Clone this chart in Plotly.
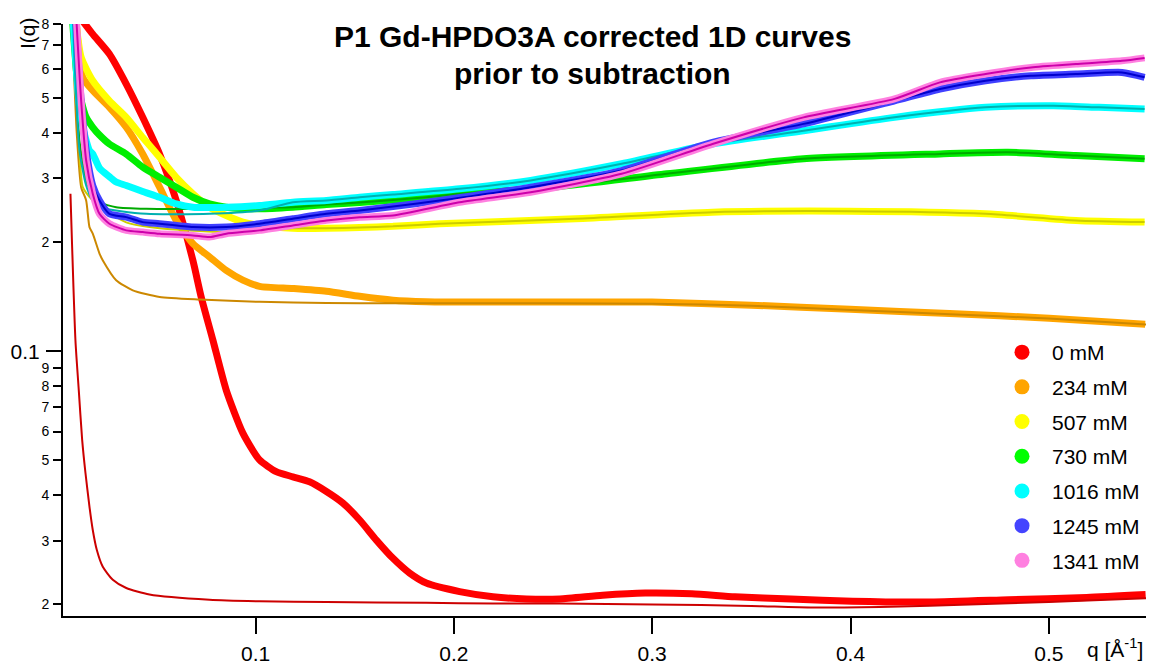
import plotly.graph_objects as go

# ---------------- data ----------------
q_red = [0.0110, 0.0179, 0.0263, 0.0348, 0.0431, 0.0516, 0.0600, 0.0684, 0.0726, 0.0785, 0.0852,
         0.0936, 0.1020, 0.1104, 0.1188, 0.1272, 0.1357, 0.1440, 0.1525, 0.1609, 0.1693, 0.1777,
         0.1861, 0.2029, 0.2197, 0.2366, 0.2534, 0.2750, 0.2965, 0.3200, 0.3417, 0.3700, 0.4010,
         0.4404, 0.4798, 0.5190, 0.5488]
I_red = [0.84, 0.750, 0.661, 0.546, 0.442, 0.350, 0.2606, 0.178, 0.141, 0.1072, 0.0781,
         0.0594, 0.0501, 0.0465, 0.0450, 0.0436, 0.0410, 0.0381, 0.0342, 0.0301, 0.0268, 0.0244,
         0.0229, 0.0217, 0.0210, 0.0207, 0.0207, 0.0212, 0.0215, 0.0214, 0.0210, 0.0207, 0.0204,
         0.0203, 0.0206, 0.0209, 0.0213]

q_red_thin = [0.00666, 0.00918, 0.01085, 0.01256, 0.01423, 0.01625, 0.01791, 0.01993, 0.02296,
              0.0280, 0.0348, 0.0465, 0.0768, 0.1020, 0.1357, 0.1861, 0.2196, 0.2534, 0.3000,
              0.3500, 0.3810, 0.4200, 0.4600, 0.5000, 0.5490]
I_red_thin = [0.272, 0.107, 0.0781, 0.0569, 0.0461, 0.0372, 0.0321, 0.0283, 0.0254,
              0.0234, 0.0222, 0.0213, 0.0206, 0.0204, 0.0203, 0.0202, 0.0201, 0.0201, 0.0200,
              0.0198, 0.0196, 0.0197, 0.0200, 0.0203, 0.0208]

q_orange = [0.0095, 0.01287, 0.0179, 0.0263, 0.0348, 0.0431, 0.0516, 0.0600, 0.0684, 0.0768,
            0.0852, 0.0936, 0.1020, 0.1188, 0.1357, 0.1525, 0.1693, 0.1861, 0.2029, 0.2500,
            0.2998, 0.3500, 0.3998, 0.4500, 0.5002, 0.5486]
I_orange = [0.82, 0.570, 0.524, 0.471, 0.415, 0.350, 0.2836, 0.2296, 0.198, 0.182,
            0.167, 0.157, 0.151, 0.1489, 0.1463, 0.1417, 0.1382, 0.1369, 0.1366, 0.1366,
            0.1366, 0.1340, 0.1305, 0.1270, 0.1233, 0.1187]

q_orange_thin = [0.0075, 0.00868, 0.00984, 0.01206, 0.01458, 0.01625, 0.01791, 0.0213, 0.0230,
                 0.0297, 0.0381, 0.0516, 0.0717, 0.1020, 0.1357, 0.1693, 0.2029, 0.2500, 0.3000,
                 0.3500, 0.4000, 0.4500, 0.5000, 0.5490]
I_orange_thin = [0.79, 0.546, 0.399, 0.2836, 0.2606, 0.220, 0.211, 0.186, 0.178,
                 0.157, 0.1472, 0.1411, 0.1388, 0.1368, 0.1358, 0.1356, 0.1356, 0.1356, 0.1352,
                 0.1335, 0.1300, 0.1265, 0.1230, 0.1185]

q_yellow = [0.0090, 0.01206, 0.0179, 0.0263, 0.0348, 0.0431, 0.0516, 0.0600, 0.0684, 0.0768,
            0.0852, 0.0936, 0.1020, 0.1188, 0.1357, 0.1525, 0.1693, 0.1928, 0.2614, 0.3304,
            0.3992, 0.4681, 0.5137, 0.5483]
I_yellow = [0.85, 0.647, 0.558, 0.491, 0.442, 0.389, 0.343, 0.302, 0.272, 0.2497,
            0.2369, 0.2271, 0.2224, 0.2183, 0.2183, 0.2196, 0.2211, 0.2249, 0.2320, 0.2419,
            0.2434, 0.2394, 0.2296, 0.2271]
q_yellow_thin = [0.0078, 0.0112, 0.01287, 0.0179, 0.0230, 0.0348, 0.0516, 0.0818, 0.1020]
I_yellow_thin = [0.85, 0.358, 0.2836, 0.2606, 0.2476, 0.2267, 0.2183, 0.2132, 0.2155]

q_green = [0.0075, 0.01034, 0.01206, 0.01458, 0.0179, 0.0213, 0.0263, 0.0348, 0.0431, 0.0516,
           0.0600, 0.0684, 0.0768, 0.0852, 0.1020, 0.1188, 0.1357, 0.1525, 0.1861, 0.2029,
           0.2501, 0.3074, 0.3763, 0.4451, 0.4794, 0.5137, 0.5483]
I_green = [0.85, 0.546, 0.491, 0.442, 0.415, 0.395, 0.373, 0.350, 0.322, 0.302,
           0.2836, 0.266, 0.255, 0.2497, 0.2472, 0.2497, 0.254, 0.2573, 0.266, 0.272,
           0.2836, 0.3087, 0.3397, 0.3504, 0.354, 0.3467, 0.3397]
q_green_thin = [0.0075, 0.0087, 0.0112, 0.01458, 0.0179, 0.0213, 0.0297, 0.0449, 0.0768, 0.1020]
I_green_thin = [0.85, 0.633, 0.381, 0.296, 0.269, 0.2573, 0.2497, 0.2472, 0.2472, 0.249]

q_cyan = [0.0078, 0.01085, 0.01287, 0.01458, 0.01625, 0.0179, 0.0213, 0.0263, 0.0297, 0.0348,
          0.0431, 0.0516, 0.0600, 0.0684, 0.0852, 0.1020, 0.1188, 0.1357, 0.1525, 0.1693,
          0.2029, 0.2387, 0.2846, 0.3304, 0.3763, 0.4222, 0.4681, 0.5024, 0.5253, 0.5483]
I_cyan = [0.85, 0.491, 0.415, 0.3814, 0.3579, 0.3504, 0.320, 0.303, 0.293, 0.2866,
          0.276, 0.266, 0.255, 0.2497, 0.2497, 0.2524, 0.2577, 0.2606, 0.266, 0.2707,
          0.2806, 0.296, 0.329, 0.373, 0.406, 0.442, 0.471, 0.476, 0.471, 0.466]
q_cyan_thin = [0.0078, 0.0087, 0.0112, 0.01458, 0.0179, 0.0213, 0.0449, 0.0768, 0.1020]
I_cyan_thin = [0.85, 0.633, 0.358, 0.2866, 0.2606, 0.2497, 0.2394, 0.2394, 0.2445]

q_blue = [0.0092, 0.01206, 0.01458, 0.0179, 0.0213, 0.0263, 0.0348, 0.0431, 0.0516, 0.0684,
          0.0852, 0.1020, 0.1188, 0.1357, 0.1525, 0.1693, 0.1928, 0.2387, 0.2846, 0.3304,
          0.3763, 0.4222, 0.4451, 0.4681, 0.4910, 0.5137, 0.5369, 0.5483]
I_blue = [0.85, 0.491, 0.3579, 0.2866, 0.2606, 0.2394, 0.2344, 0.2271, 0.2248, 0.220,
          0.220, 0.2248, 0.2320, 0.2394, 0.2445, 0.2508, 0.2606, 0.2836, 0.3152, 0.3772,
          0.424, 0.491, 0.5294, 0.558, 0.576, 0.582, 0.588, 0.570]

q_pink = [0.0095, 0.01206, 0.01458, 0.0179, 0.0213, 0.0263, 0.0348, 0.0431, 0.0516, 0.0684,
          0.0768, 0.0852, 0.1020, 0.1188, 0.1357, 0.1525, 0.1693, 0.2029, 0.2387, 0.2846,
          0.3304, 0.3763, 0.4222, 0.4451, 0.4681, 0.4910, 0.5137, 0.5369, 0.5483]
I_pink = [0.85, 0.491, 0.336, 0.272, 0.2394, 0.2248, 0.2155, 0.2132, 0.211, 0.2087,
          0.2065, 0.211, 0.2155, 0.2224, 0.2296, 0.2344, 0.2369, 0.2577, 0.2747, 0.3087,
          0.373, 0.442, 0.497, 0.552, 0.582, 0.607, 0.620, 0.633, 0.645]

legend_labels = ["0 mM", "234 mM", "507 mM", "730 mM", "1016 mM", "1245 mM", "1341 mM"]
legend_colors = ["#ff0000", "#ffa500", "#ffff00", "#00ff00", "#00ffff", "#4444ff", "#ff80e0"]

x_tickvals = [0.1, 0.2, 0.3, 0.4, 0.5]
y_minor_vals = [0.02, 0.03, 0.04, 0.05, 0.06, 0.07, 0.08, 0.09, 0.2, 0.3, 0.4, 0.5, 0.6, 0.7, 0.8]
y_minor_text = ["2", "3", "4", "5", "6", "7", "8", "9", "2", "3", "4", "5", "6", "7", "8"]

title_lines = ["P1 Gd-HPDO3A corrected 1D curves", "prior to subtraction"]


def merge(q_lo, i_lo, q_hi, i_hi):
    cut = q_lo[-1]
    qq = list(q_lo) + [q for q in q_hi if q > cut]
    ii = list(i_lo) + [v for q, v in zip(q_hi, i_hi) if q > cut]
    return qq, ii


fig = go.Figure()

THICK = 7
THIN = 2


def add(q, i, color, width):
    fig.add_trace(go.Scatter(x=q, y=i, mode="lines",
                             line=dict(color=color, width=width, shape="spline", smoothing=0.6),
                             showlegend=False, hoverinfo="skip"))


add(q_red, I_red, "#ff0000", THICK)
add(q_red_thin, I_red_thin, "#cc0000", THIN)
add(q_orange, I_orange, "#ffa500", THICK)
add(q_orange_thin, I_orange_thin, "#cc8800", THIN)
add(q_yellow, I_yellow, "#ffff00", THICK)
qy, iy = merge(q_yellow_thin, I_yellow_thin, q_yellow, I_yellow)
add(qy, iy, "#cccc00", THIN)
add(q_green, I_green, "#00ee00", THICK)
qg, ig = merge(q_green_thin, I_green_thin, q_green, I_green)
add(qg, ig, "#00aa00", THIN)
add(q_cyan, I_cyan, "#00ffff", THICK)
qc, ic = merge(q_cyan_thin, I_cyan_thin, q_cyan, I_cyan)
add(qc, ic, "#00b0b0", THIN)
add(q_blue, I_blue, "#4040ff", THICK)
add(q_blue, I_blue, "#0000cc", THIN)
add(q_pink, I_pink, "#ff80e0", THICK)
add(q_pink, I_pink, "#cc00aa", THIN)

for k, (lab, col) in enumerate(zip(legend_labels, legend_colors)):
    fig.add_trace(go.Scatter(x=[None], y=[None], mode="markers", name=lab,
                             marker=dict(color=col, size=15, symbol="circle"),
                             legendgroup="g%d" % k, showlegend=True))

# invisible trace to activate the second y axis (long 0.1 tick)
fig.add_trace(go.Scatter(x=[None], y=[None], yaxis="y2", showlegend=False, hoverinfo="skip"))

yrange = [-1.731, -0.0969]

fig.update_layout(
    width=1149, height=666,
    margin=dict(l=63, r=3, t=24, b=50, autoexpand=False),
    paper_bgcolor="white", plot_bgcolor="white",
    font=dict(family="Arial, Liberation Sans, sans-serif", color="black"),
    xaxis=dict(range=[0.0029, 0.549], tickvals=x_tickvals, ticktext=[str(v) for v in x_tickvals],
               ticks="outside", ticklen=16, tickwidth=1.5, tickcolor="black",
               showline=True, linewidth=2, linecolor="black", showgrid=False, zeroline=False,
               tickfont=dict(size=21), ticklabelstandoff=2),
    yaxis=dict(type="log", range=yrange, tickvals=y_minor_vals, ticktext=y_minor_text,
               ticks="outside", ticklen=8, tickwidth=1.5, tickcolor="black",
               showline=True, linewidth=2, linecolor="black", showgrid=False, zeroline=False,
               tickfont=dict(size=14), ticklabelstandoff=1),
    yaxis2=dict(type="log", range=yrange, overlaying="y", side="left", anchor="x",
                tickvals=[0.1], ticktext=["0.1"], ticks="outside", ticklen=16, tickwidth=1.5,
                tickcolor="black", showline=False, showgrid=False, zeroline=False,
                tickfont=dict(size=21), ticklabelstandoff=2),
    legend=dict(xref="paper", yref="paper", x=(992 - 63) / 1083, y=(616 - 332) / 592,
                xanchor="left", yanchor="top", font=dict(size=21), itemwidth=50,
                tracegroupgap=4.4, bgcolor="rgba(0,0,0,0)", itemclick=False),
    showlegend=True,
    annotations=[
        dict(xref="paper", yref="paper", x=(592 - 63) / 1083, y=1 + (24 - 36) / 592,
             text="<b>%s</b>" % title_lines[0], showarrow=False, font=dict(size=30),
             xanchor="center", yanchor="middle"),
        dict(xref="paper", yref="paper", x=(592 - 63) / 1083, y=1 + (24 - 74) / 592,
             text="<b>%s</b>" % title_lines[1], showarrow=False, font=dict(size=30),
             xanchor="center", yanchor="middle"),
        dict(xref="paper", yref="paper", x=(27 - 63) / 1083, y=1 + (24 - 33) / 592,
             text="I(q)", textangle=-90, showarrow=False, font=dict(size=21),
             xanchor="center", yanchor="middle"),
        dict(xref="paper", yref="paper", x=(1145 - 63) / 1083, y=-(648 - 616) / 592,
             text="q [Å<sup>-1</sup>]", showarrow=False, font=dict(size=21),
             xanchor="right", yanchor="middle"),
    ],
)

fig.write_html("out.html")
